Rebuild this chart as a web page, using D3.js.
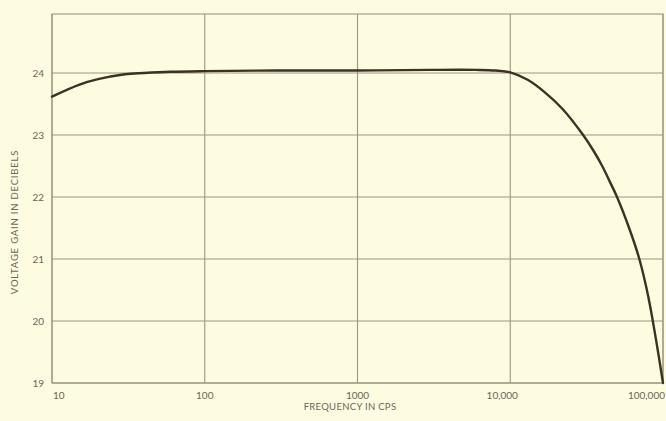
<!DOCTYPE html>
<html>
<head>
<meta charset="utf-8">
<script src="https://cdn.jsdelivr.net/npm/d3@7/dist/d3.min.js"></script>
<style>
  html, body { margin: 0; padding: 0; background: #fdfbe0; }
  svg { display: block; }
  text { font-family: Lato, "Open Sans", sans-serif; fill: #6b6658; }
</style>
</head>
<body>
<svg id="chart" width="666" height="421"></svg>
<script>
// Frequency response of the amplifier (gain in dB vs frequency in cps)
const frequencies = [10, 15, 20, 30, 40, 60, 100, 300, 1000, 3000, 6000, 8000,
  10000, 13000, 17000, 22000, 30000, 35000, 40000, 45000, 50000, 60000, 70000, 80000, 90000, 100000];
const gainDb = [23.62, 23.81, 23.9, 23.98, 24.0, 24.02, 24.03, 24.04, 24.04, 24.05, 24.05, 24.04,
  24.01, 23.89, 23.68, 23.42, 23.0, 22.75, 22.5, 22.24, 22.0, 21.5, 21.0, 20.4, 19.7, 19.0];

const xTicks = [10, 100, 1000, 10000, 100000];
const xTickLabels = ["10", "100", "1000", "10,000", "100,000"];
const yTicks = [19, 20, 21, 22, 23, 24];
const yTickLabels = ["19", "20", "21", "22", "23", "24"];

const xTitle = "FREQUENCY IN CPS";
const yTitle = "VOLTAGE GAIN IN DECIBELS";

const svg = d3.select("#chart");
const plotLeft = 52, plotRight = 663, plotTop = 14, plotBottom = 383;

const x = d3.scaleLog().domain([10, 100000]).range([plotLeft, plotRight]);
const y = d3.scaleLinear().domain([19, 24]).range([plotBottom, 73]);

const gridColor = "#9d967f";

// frame
svg.append("rect")
  .attr("x", plotLeft).attr("y", plotTop)
  .attr("width", plotRight - plotLeft).attr("height", plotBottom - plotTop)
  .attr("fill", "none").attr("stroke", gridColor).attr("stroke-width", 1.1);

// horizontal grid
svg.append("g").selectAll("line").data(yTicks).join("line")
  .attr("x1", plotLeft).attr("x2", plotRight)
  .attr("y1", d => y(d)).attr("y2", d => y(d))
  .attr("stroke", gridColor).attr("stroke-width", 1.1);

// vertical grid
svg.append("g").selectAll("line").data(xTicks).join("line")
  .attr("x1", d => x(d)).attr("x2", d => x(d))
  .attr("y1", plotTop).attr("y2", plotBottom)
  .attr("stroke", gridColor).attr("stroke-width", 1.1);

// y tick labels
svg.append("g").selectAll("text").data(yTicks).join("text")
  .attr("x", 44).attr("y", d => y(d) + 4)
  .attr("text-anchor", "end")
  .attr("font-size", 10)
  .text((d, i) => yTickLabels[i]);

// x tick labels
const xAnchor = ["start", "middle", "middle", "middle", "end"];
const xShift = [1, 0, 0, -8, 2];
svg.append("g").selectAll("text").data(xTicks).join("text")
  .attr("x", (d, i) => x(d) + xShift[i]).attr("y", 399)
  .attr("text-anchor", (d, i) => xAnchor[i])
  .attr("font-size", 10)
  .text((d, i) => xTickLabels[i]);

// axis titles
svg.append("text")
  .attr("x", 350).attr("y", 410)
  .attr("text-anchor", "middle")
  .attr("font-size", 9.5)
  .attr("letter-spacing", 0.3)
  .text(xTitle);

svg.append("text")
  .attr("transform", `translate(18,222) rotate(-90)`)
  .attr("text-anchor", "middle")
  .attr("font-size", 9.5)
  .attr("letter-spacing", 0.8)
  .text(yTitle);

// response curve
const line = d3.line()
  .x((d, i) => x(frequencies[i]))
  .y(d => y(d))
  .curve(d3.curveCatmullRom.alpha(0.5));

svg.append("path")
  .datum(gainDb)
  .attr("d", line)
  .attr("fill", "none")
  .attr("stroke", "#3b3125")
  .attr("stroke-width", 2.4)
  .attr("stroke-linecap", "round");
</script>
</body>
</html>
